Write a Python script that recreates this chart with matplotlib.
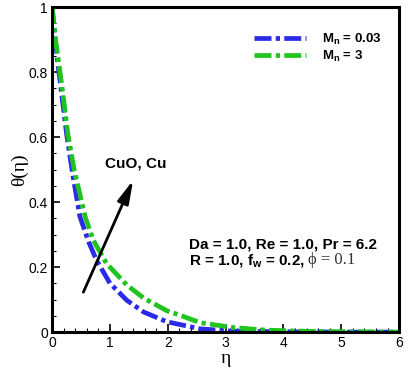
import numpy as np
import matplotlib
matplotlib.use("Agg")
import matplotlib.pyplot as plt
from matplotlib.ticker import MultipleLocator

# values
eta_mn003 = [0, 0.05, 0.11, 0.18, 0.25, 0.36, 0.48, 0.63, 0.77, 1.0, 1.29, 1.58, 1.98, 2.56, 3.13, 4.0, 5.0, 6.0]
theta_mn003 = [1.0, 0.90, 0.81, 0.71, 0.61, 0.48, 0.355, 0.278, 0.22, 0.15, 0.098, 0.062, 0.032, 0.01, 0.003, 0.001, 0.0, 0.0]
eta_mn3 = [0, 0.05, 0.12, 0.2, 0.27, 0.38, 0.57, 0.71, 0.94, 1.29, 1.58, 1.98, 2.21, 2.56, 3.13, 3.7, 4.5, 6.0]
theta_mn3 = [1.0, 0.91, 0.82, 0.714, 0.61, 0.50, 0.355, 0.283, 0.211, 0.145, 0.105, 0.066, 0.052, 0.029, 0.014, 0.006, 0.002, 0.0]
labels = [r"M$_{\mathregular{n}}$ = 0.03", r"M$_{\mathregular{n}}$ = 3"]
colors = ["#2a2ae8", "#1fc41f"]

plt.rcParams["font.family"] = ["Liberation Sans", "DejaVu Sans"]

fig = plt.figure(figsize=(4.14, 3.69), dpi=100)
ax = fig.add_axes([0.126, 0.10, 0.838, 0.881])

dash = (0, (3.6, 0.9, 0.9, 0.9))
for x, y, c, lab in zip([eta_mn003, eta_mn3], [theta_mn003, theta_mn3], colors, labels):
    ax.plot(x, y, color=c, lw=3.4, linestyle=dash, label=lab)

ax.set_xlim(0, 6)
ax.set_ylim(0, 1)
ax.xaxis.set_major_locator(MultipleLocator(1))
ax.xaxis.set_minor_locator(MultipleLocator(0.2))
ax.yaxis.set_major_locator(MultipleLocator(0.2))
ax.yaxis.set_minor_locator(MultipleLocator(0.05))
ax.yaxis.set_major_formatter(plt.FuncFormatter(lambda v, p: "%g" % round(v, 2)))
ax.tick_params(which="both", direction="in", labelsize=10, pad=3)
ax.tick_params(which="major", length=6, width=1.2)
ax.tick_params(which="minor", length=3, width=0.8)
for s in ax.spines.values():
    s.set_linewidth(2.2)

ax.set_xlabel("η", fontsize=14, labelpad=0, family="Liberation Serif")
ax.set_ylabel("θ(η)", fontsize=14, labelpad=0, family="Liberation Serif")

leg = ax.legend(loc="upper right", bbox_to_anchor=(0.985, 0.96), frameon=False,
                prop={"weight": "bold", "size": 9.5}, handlelength=4.0,
                labelspacing=0.15, handletextpad=1.2)

ax.annotate("", xy=(1.42, 0.475), xytext=(0.52, 0.115),
            arrowprops=dict(arrowstyle="-|>,head_length=1.4,head_width=0.35",
                            color="black", lw=2))
ax.text(1.45, 0.52, "CuO, Cu", fontsize=11, fontweight="bold", ha="center", va="center")
ax.text(2.36, 0.27, "Da = 1.0, Re = 1.0, Pr = 6.2", fontsize=11, fontweight="bold", va="center")
ax.text(2.36, 0.218, r"R = 1.0, f$_{\mathregular{w}}$ = 0.2,",
        fontsize=11, fontweight="bold", va="center")
ax.text(4.43, 0.222, "ϕ = 0.1", fontsize=12, va="center", family="Liberation Serif",
        color="#333333")

fig.savefig("out.png", dpi=100)
